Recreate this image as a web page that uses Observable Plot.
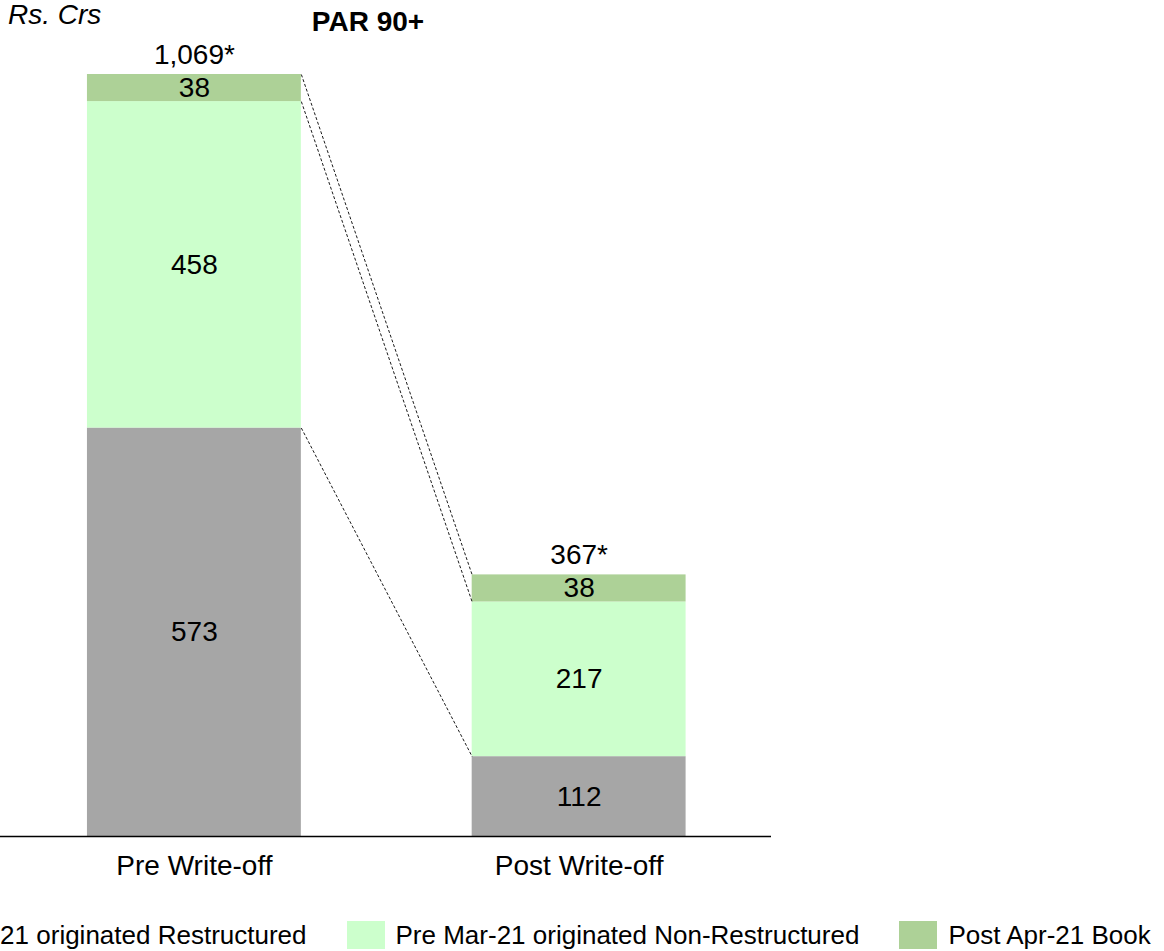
<!DOCTYPE html>
<html>
<head>
<meta charset="utf-8">
<script src="https://cdn.jsdelivr.net/npm/d3@7"></script>
<script src="https://cdn.jsdelivr.net/npm/@observablehq/plot@0.6"></script>
<style>
  html, body { margin: 0; padding: 0; background: #fff; overflow: hidden; }
  body { width: 1164px; height: 951px; position: relative; font-family: "Liberation Sans", Arial, sans-serif; color: #000; }
  #unit { position: absolute; left: 8px; top: 1px; font-size: 28px; line-height: 28px; font-style: italic; white-space: nowrap; }
  #title { position: absolute; left: 368px; top: 8px; transform: translateX(-50%); font-size: 28px; line-height: 28px; font-weight: bold; white-space: nowrap; }
  #chart { position: absolute; left: 0; top: 0; }
  #legend { position: absolute; left: -150px; top: 921px; display: flex; align-items: center; white-space: nowrap; font-size: 26px; line-height: 28px; }
  .item { display: flex; align-items: center; margin-right: 40px; }
  .sw { width: 38px; height: 28px; margin-right: 11px; flex: none; }
</style>
</head>
<body>
<div id="unit">Rs. Crs</div>
<div id="title">PAR 90+</div>
<div id="chart"></div>
<div id="legend"></div>
<script>
const categories = ["Pre Write-off", "Post Write-off"];
const seriesNames = [
  "Pre Mar-21 originated Restructured",
  "Pre Mar-21 originated Non-Restructured",
  "Post Apr-21 Book"
];
const restructured = [573, 112];
const nonRestructured = [458, 217];
const postApr21 = [38, 38];
const totalLabels = ["1,069*", "367*"];
const colors = ["#A6A6A6", "#CCFFCC", "#ADD197"];

const seriesValues = [restructured, nonRestructured, postApr21];
const BW = 0.556; // bar width as fraction of category step

// manual stacking
const segs = [];
categories.forEach((cat, i) => {
  let acc = 0;
  seriesValues.forEach((vals, s) => {
    const v = vals[i];
    segs.push({i, cat, series: seriesNames[s], s, value: v, y1: acc, y2: acc + v});
    acc += v;
  });
});
const totals = categories.map((cat, i) => ({
  i, label: totalLabels[i],
  total: d3.sum(seriesValues, vals => vals[i])
}));
// connector links from top of each series on the first bar to the second bar
const links = seriesNames.map((name, s) => ({
  from: segs.find(d => d.i === 0 && d.s === s).y2,
  to: segs.find(d => d.i === 1 && d.s === s).y2
}));

const chart = Plot.plot({
  width: 771,
  height: 900,
  marginTop: 74,
  marginBottom: 64,
  marginLeft: 0,
  marginRight: 0,
  style: {fontFamily: "'Liberation Sans', Arial, sans-serif", background: "transparent", overflow: "visible"},
  x: {type: "linear", domain: [-0.504, 1.5], axis: null},
  y: {domain: [0, d3.max(totals, d => d.total)], axis: null},
  color: {domain: seriesNames, range: colors},
  marks: [
    Plot.rect(segs, {
      x1: d => d.i - BW / 2, x2: d => d.i + BW / 2,
      y1: "y1", y2: "y2", fill: "series"
    }),
    Plot.text(segs, {
      x: "i", y: d => (d.y1 + d.y2) / 2, text: d => String(d.value),
      fontSize: 28, fill: "black", lineAnchor: "middle"
    }),
    Plot.text(totals, {
      x: "i", y: "total", text: "label",
      fontSize: 28, fill: "black", lineAnchor: "bottom", dy: -11
    }),
    Plot.link(links, {
      x1: () => BW / 2, x2: () => 1 - BW / 2,
      y1: "from", y2: "to",
      stroke: "black", strokeWidth: 0.9, strokeDasharray: "3,2"
    }),
    Plot.ruleY([0], {stroke: "black", strokeWidth: 1.6}),
    Plot.axisX([0, 1], {
      tickFormat: i => categories[i], tickSize: 0, tickPadding: 19,
      fontSize: 28, fill: "black", label: null
    })
  ]
});
document.getElementById("chart").appendChild(chart);

const legend = document.getElementById("legend");
seriesNames.forEach((name, s) => {
  const item = document.createElement("div");
  item.className = "item";
  const sw = document.createElement("div");
  sw.className = "sw";
  sw.style.background = colors[s];
  const t = document.createElement("span");
  t.textContent = name;
  item.appendChild(sw);
  item.appendChild(t);
  legend.appendChild(item);
});
</script>
</body>
</html>
